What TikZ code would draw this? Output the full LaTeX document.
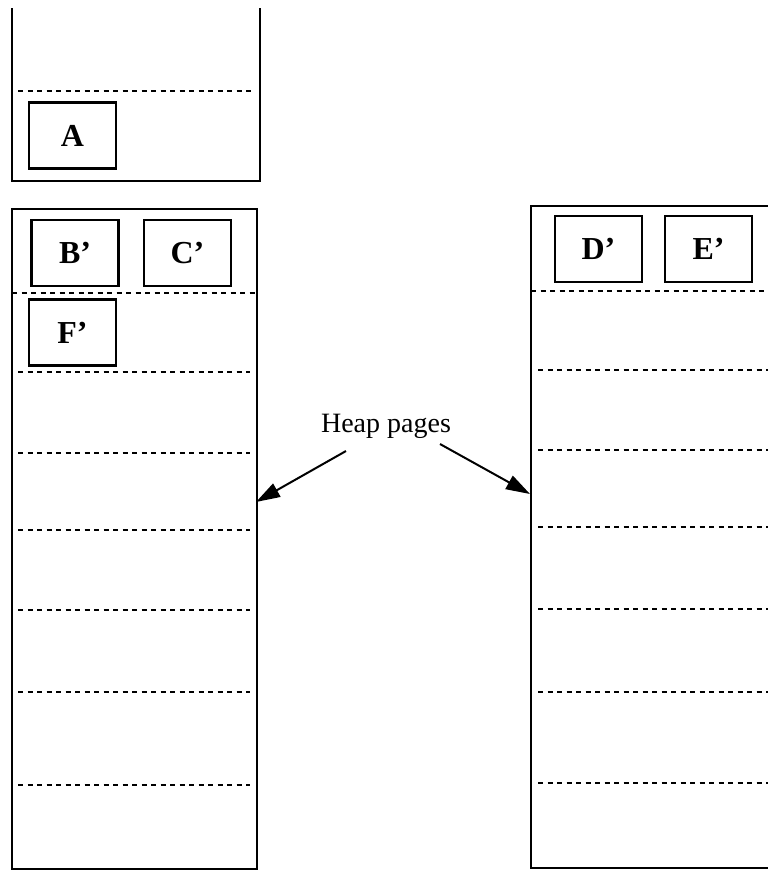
\documentclass[tikz,border=0pt]{standalone}
\usepackage{fontspec}
\setmainfont{Liberation Serif}
\usetikzlibrary{arrows.meta}

\tikzset{
  wall/.style={line width=2.2pt},
  slot/.style={line width=2pt, dash pattern=on 5pt off 4.5pt},
  obj/.style={draw, line width=2.2pt, minimum width=87pt, minimum height=66pt,
    inner sep=0pt, font=\fontsize{32}{36}\selectfont\bfseries},
  ptr/.style={line width=2pt, -{Triangle[length=24pt,width=15pt]}},
}

\begin{document}
\begin{tikzpicture}[x=1pt, y=-1pt]
\useasboundingbox (0,0) rectangle (768,871);

% stack frame at the top
\coordinate (S1) at (12,8);
\coordinate (S2) at (12,181);
\coordinate (S3) at (260,181);
\coordinate (S4) at (260,8);
\draw [wall] (S1)--(S2)--(S3)--(S4);
\draw [slot] (18,91) -- (254,91);
\node [obj] (A) at (72.5,135.5) {A};

% left heap page
\coordinate (L1) at (12,209);
\coordinate (L2) at (257,209);
\coordinate (L3) at (257,869);
\coordinate (L4) at (12,869);
\draw [wall] (L1)--(L2)--(L3)--(L4)--cycle;
\draw [slot] (12,293) -- (257,293);
\foreach \y in {372,453,530,610,692,785}
  \draw [slot] (18,\y) -- (250,\y);
\node [obj] (B) at (75,253) {B'};
\node [obj] (C) at (187.5,253) {C'};
\node [obj] (F) at (72.5,332.5) {F'};

% right heap page
\coordinate (R1) at (768,206);
\coordinate (R2) at (531,206);
\coordinate (R3) at (531,868);
\coordinate (R4) at (768,868);
\draw [wall] (R1)--(R2)--(R3)--(R4);
\draw [slot] (531,291) -- (768,291);
\foreach \y in {370,450,527,609,692,783}
  \draw [slot] (538,\y) -- (768,\y);
\node [obj] (D) at (598.5,249) {D'};
\node [obj] (E) at (708.5,249) {E'};

% label and pointers
\node [anchor=base, font=\fontsize{28}{31}\selectfont] (heap) at (386,432) {Heap pages};
\coordinate (hl) at (346,451);
\coordinate (hr) at (440,444);
\coordinate (lhit) at (256,502);
\coordinate (rhit) at (530,494);
\draw [ptr] (hl) -- (lhit);
\draw [ptr] (hr) -- (rhit);
\end{tikzpicture}
\end{document}
